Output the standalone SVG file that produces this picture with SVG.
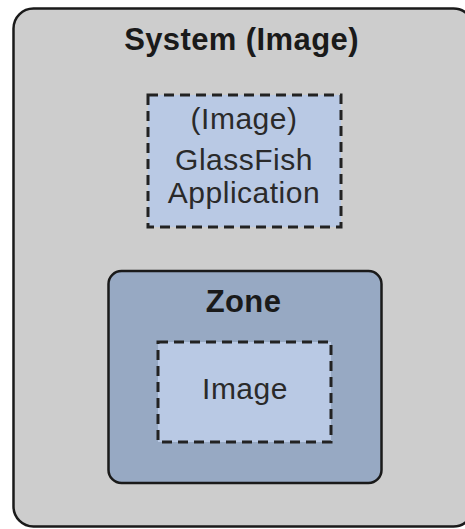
<svg xmlns="http://www.w3.org/2000/svg" width="465" height="529" viewBox="0 0 465 529">
  <style>
    .solid { stroke: #1a1a1a; stroke-width: 2.5; }
    .dashed { fill: #b9c9e4; stroke: #222; stroke-width: 3; stroke-dasharray: 10 6; }
    .bold { font-family: "Liberation Sans", Arial, sans-serif; font-weight: bold; font-size: 31px; fill: #1a1a1a; text-anchor: middle; letter-spacing: 0.4px; }
    .reg { font-family: "Liberation Sans", Arial, sans-serif; font-size: 30px; fill: #2a2a2a; text-anchor: middle; letter-spacing: 0.5px; }
  </style>
  <rect width="465" height="529" fill="#ffffff"/>
  <g id="system">
    <rect class="solid" x="13.5" y="8.5" width="460" height="518" rx="20" fill="#cdcdcd"/>
    <text class="bold" x="241.5" y="50">System (Image)</text>
  </g>
  <g id="glassfish">
    <rect class="dashed" x="148" y="95" width="193" height="132"/>
    <text class="reg" x="244" y="129">(Image)</text>
    <text class="reg" x="244" y="170">GlassFish</text>
    <text class="reg" x="244" y="203">Application</text>
  </g>
  <g id="zone">
    <rect class="solid" x="108.5" y="271" width="273" height="212" rx="13" fill="#97a9c3"/>
    <text class="bold" x="243.5" y="312">Zone</text>
  </g>
  <g id="image">
    <rect class="dashed" x="158" y="342" width="173" height="100"/>
    <text class="reg" x="245" y="399">Image</text>
  </g>
  <g id="connectors"></g>
</svg>
